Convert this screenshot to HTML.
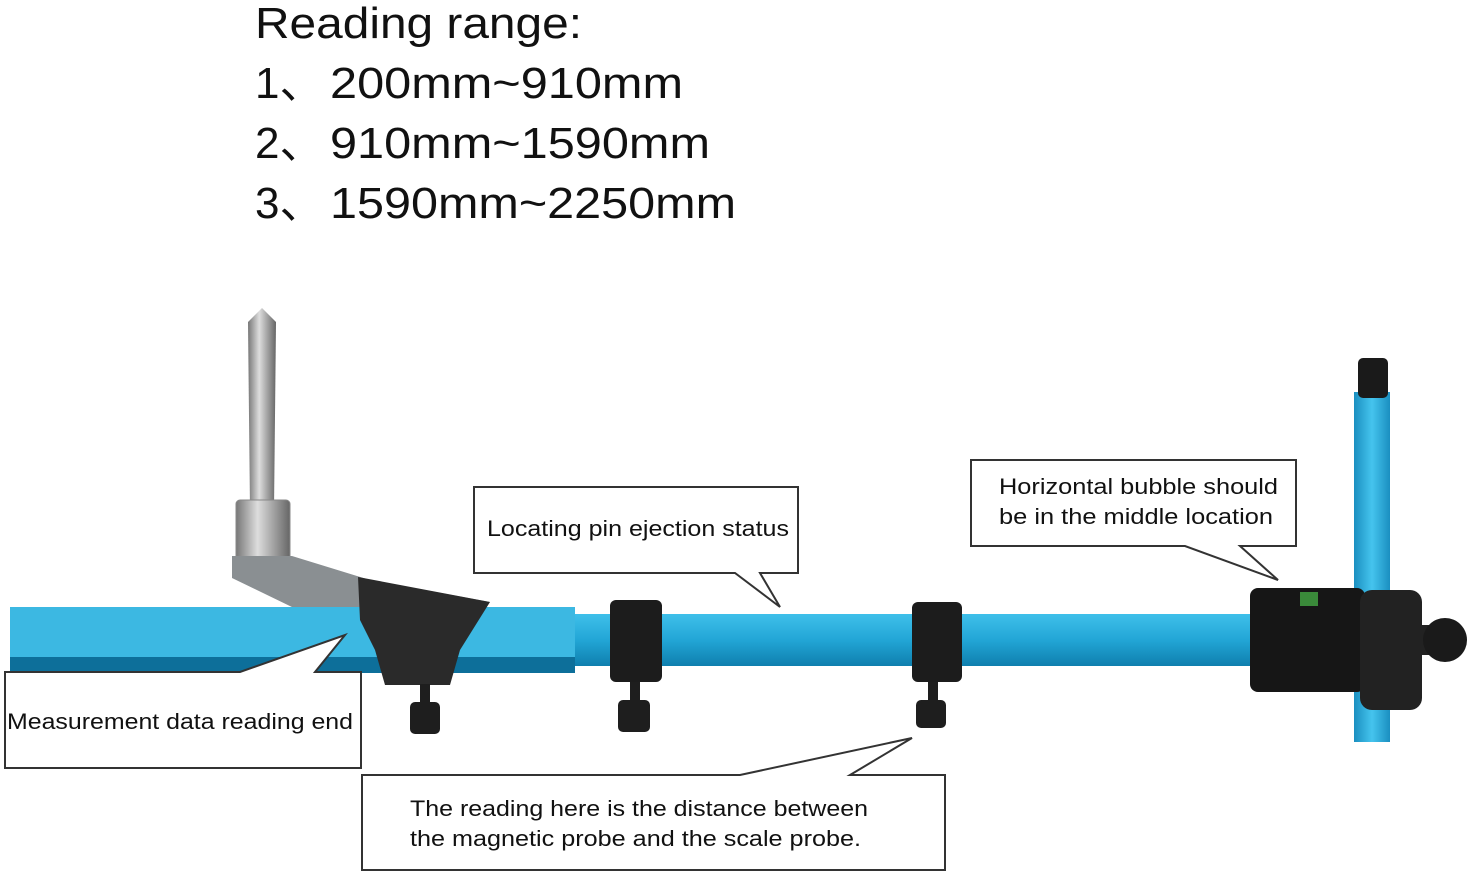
<!DOCTYPE html>
<html><head><meta charset="utf-8"><style>
html,body{margin:0;padding:0;background:#fff;width:1471px;height:875px;overflow:hidden}
svg{display:block}
text{font-family:"Liberation Sans","DejaVu Sans",sans-serif;fill:#111}
</style></head><body>
<svg width="1471" height="875" viewBox="0 0 1471 875">
<defs>
<linearGradient id="pin" x1="0" x2="1"><stop offset="0" stop-color="#777"/><stop offset=".4" stop-color="#ddd"/><stop offset="1" stop-color="#666"/></linearGradient>
<linearGradient id="tube" x1="0" y1="0" x2="0" y2="1"><stop offset="0" stop-color="#3fc0ea"/><stop offset=".5" stop-color="#22a6d6"/><stop offset="1" stop-color="#0f7fae"/></linearGradient>
<linearGradient id="vt" x1="0" x2="1"><stop offset="0" stop-color="#1a8fc0"/><stop offset=".5" stop-color="#45c4ee"/><stop offset="1" stop-color="#1a8fc0"/></linearGradient>
</defs>
<g font-size="44">
<text x="255" y="38" textLength="327" lengthAdjust="spacingAndGlyphs">Reading range:</text>
<text x="255" y="98">1、</text><text x="330" y="98" textLength="353" lengthAdjust="spacingAndGlyphs">200mm~910mm</text>
<text x="255" y="158">2、</text><text x="330" y="158" textLength="380" lengthAdjust="spacingAndGlyphs">910mm~1590mm</text>
<text x="255" y="218">3、</text><text x="330" y="218" textLength="406" lengthAdjust="spacingAndGlyphs">1590mm~2250mm</text>
</g>
<!-- pin -->
<polygon points="248,322 262,308 276,322 274,510 250,510" fill="url(#pin)"/>
<rect x="236" y="500" width="54" height="60" rx="4" fill="url(#pin)" stroke="#888"/>
<polygon points="232,556 292,556 370,580 490,602 430,640 360,640 232,578" fill="#8a8f92"/>
<!-- left bar -->
<rect x="10" y="607" width="565" height="50" fill="#3cb8e2"/>
<rect x="10" y="657" width="565" height="16" fill="#0d6f9a"/>
<!-- main tube -->
<rect x="575" y="614" width="690" height="52" fill="url(#tube)"/>
<rect x="1360" y="625" width="70" height="30" fill="#222"/>
<circle cx="1445" cy="640" r="22" fill="#1a1a1a"/>
<!-- vertical tube -->
<rect x="1354" y="392" width="36" height="350" fill="url(#vt)"/>
<rect x="1358" y="358" width="30" height="40" rx="5" fill="#1a1a1a"/>
<!-- black parts -->
<polygon points="358,577 490,602 460,650 450,685 385,685 375,650 360,620" fill="#2a2a2a"/>
<rect x="610" y="600" width="52" height="82" rx="6" fill="#1c1c1c"/>
<rect x="912" y="602" width="50" height="80" rx="6" fill="#1c1c1c"/>
<rect x="1250" y="588" width="115" height="104" rx="8" fill="#161616"/>
<rect x="1360" y="590" width="62" height="120" rx="12" fill="#222"/>
<rect x="1300" y="592" width="18" height="14" fill="#3a8a3a"/>
<!-- knobs -->
<g fill="#1e1e1e">
<rect x="420" y="684" width="10" height="20"/><rect x="410" y="702" width="30" height="32" rx="5"/>
<rect x="630" y="682" width="10" height="20"/><rect x="618" y="700" width="32" height="32" rx="5"/>
<rect x="928" y="682" width="10" height="20"/><rect x="916" y="700" width="30" height="28" rx="5"/>
</g>
<!-- callouts -->
<g fill="#fff" stroke="#333" stroke-width="2">
<path d="M474,487 H798 V573 H760 L780,607 L735,573 H474 Z"/>
<path d="M971,460 H1296 V546 H1240 L1278,580 L1185,546 H971 Z"/>
<path d="M5,672 H240 L345,635 L315,672 H361 V768 H5 Z"/>
<path d="M362,775 H740 L912,738 L850,775 H945 V870 H362 Z"/>
</g>
<g font-size="22" lengthAdjust="spacingAndGlyphs">
<text x="487" y="536" textLength="302" lengthAdjust="spacingAndGlyphs">Locating pin ejection status</text>
<text x="999" y="494" textLength="279" lengthAdjust="spacingAndGlyphs">Horizontal bubble should</text>
<text x="999" y="524" textLength="274" lengthAdjust="spacingAndGlyphs">be in the middle location</text>
<text x="7" y="729" textLength="346" lengthAdjust="spacingAndGlyphs">Measurement data reading end</text>
<text x="410" y="816" textLength="458" lengthAdjust="spacingAndGlyphs">The reading here is the distance between</text>
<text x="410" y="846" textLength="451" lengthAdjust="spacingAndGlyphs">the magnetic probe and the scale probe.</text>
</g>
</svg>
</body></html>
